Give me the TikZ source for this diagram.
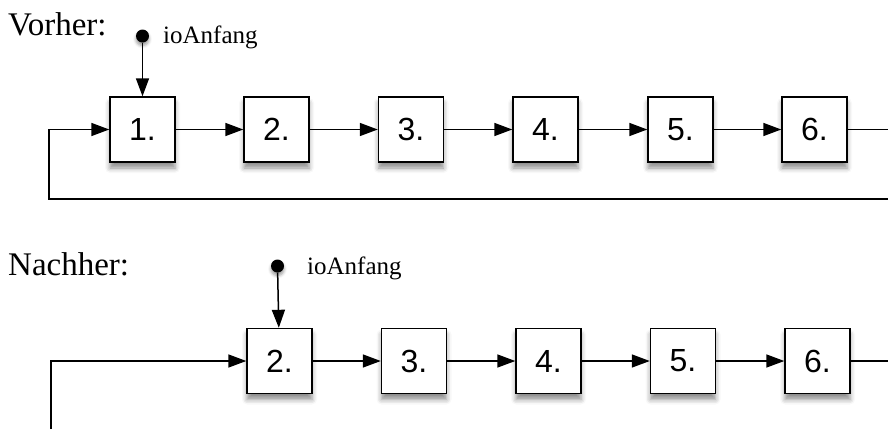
\documentclass[tikz,border=0pt]{standalone}
\usepackage{fontspec}
\setmainfont{Liberation Serif}
\newfontfamily\boxfont{Liberation Sans}
\usetikzlibrary{arrows.meta,shadows.blur}
\tikzset{
  listbox/.style={draw, line width=1.4pt, fill=white, minimum width=65pt, minimum height=65pt,
    inner sep=0pt, font=\boxfont\fontsize{32}{32}\selectfont,
    blur shadow={shadow xshift=0pt, shadow yshift=-6pt, shadow blur radius=5pt, shadow opacity=45}},
  dotnode/.style={circle, fill=black, minimum size=13pt, inner sep=0pt,
    blur shadow={shadow xshift=0pt, shadow yshift=-3pt, shadow blur radius=3pt, shadow opacity=40}},
  lbl/.style={anchor=base west, inner sep=0pt, font=\fontsize{33}{33}\selectfont},
  ptr/.style={anchor=base west, inner sep=0pt, font=\fontsize{25}{25}\selectfont},
  conn/.style={line width=1.5pt},
  arr/.style={conn, -{Triangle[length=18pt,width=13pt]}}
}
\begin{document}
\begin{tikzpicture}[x=1pt,y=-1pt]
\useasboundingbox (0,0) rectangle (888,429);
% top row
\node[lbl] (vorher) at (8,35) {Vorher:};
\foreach \i/\x in {1/142.5,2/276.5,3/411,4/545.5,5/680.5,6/814.5}
  \node[listbox] (b\i) at (\x,129.5) {\i.};
\node[dotnode] (d1) at (142.5,36) {};
\node[ptr] (p1) at (163,43) {ioAnfang};
\draw[arr] (d1) -- (b1);
\foreach \i/\j in {1/2,2/3,3/4,4/5,5/6}
  \draw[arr] (b\i.east) -- (b\j.west);
\coordinate (tr) at (888,129.5);
\coordinate (br) at (888,199);
\coordinate (bl) at (49,199);
\coordinate (ml) at (49,129.5);
\draw[conn] (b6.east) -- (tr);
\draw[arr] (br) -- (bl) -- (ml) -- (b1.west);
% bottom row
\node[lbl] (nachher) at (8,275) {Nachher:};
\foreach \i/\x in {2/279.5,3/414,4/548.5,5/683,6/817.5}
  \node[listbox] (c\i) at (\x,361) {\i.};
\node[dotnode] (d2) at (277.5,266) {};
\node[ptr] (p2) at (307,274) {ioAnfang};
\draw[arr] (d2) -- (c2);
\foreach \i/\j in {2/3,3/4,4/5,5/6}
  \draw[arr] (c\i.east) -- (c\j.west);
\coordinate (tr2) at (888,361);
\coordinate (low) at (51,429);
\coordinate (ml2) at (51,361);
\draw[conn] (c6.east) -- (tr2);
\draw[arr] (low) -- (ml2) -- (c2.west);
\end{tikzpicture}
\end{document}
